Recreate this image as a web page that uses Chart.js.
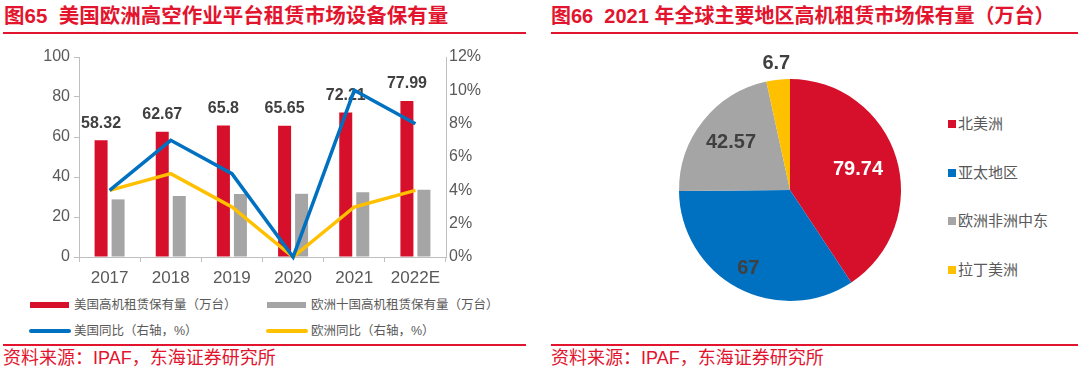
<!DOCTYPE html>
<html lang="zh">
<head>
<meta charset="UTF-8">
<title>高机租赁市场保有量</title>
<script src="https://cdn.jsdelivr.net/npm/chart.js"></script>
<style>
  body { margin: 0; width: 1080px; height: 376px; background: #fff; position: relative; overflow: hidden;
         font-family: "Liberation Sans", "Noto Sans CJK SC", sans-serif; }
  .title { position: absolute; top: 4px; line-height: 24px; font-size: 20px; font-weight: bold; color: #E2142E; white-space: nowrap; }
  .rule { position: absolute; height: 2px; background: #E2142E; }
  .source { position: absolute; top: 348px; line-height: 20px; font-size: 18px; color: #E2142E; white-space: nowrap; }
  .lg { position: absolute; font-size: 12.5px; color: #595959; white-space: nowrap; line-height: 14px; }
  .lg i { position: absolute; }
  .plg { position: absolute; font-size: 15px; color: #595959; white-space: nowrap; line-height: 18px; }
  .plg i { position: absolute; left: -10px; top: 5px; width: 8px; height: 8px; }
  canvas { position: absolute; }
</style>
</head>
<body>
<div class="title" style="left:4px;font-size:20.5px">图65&nbsp;&nbsp;美国欧洲高空作业平台租赁市场设备保有量</div>
<div class="rule" style="left:3px;width:523px;top:32px"></div>
<div class="title" style="left:551px">图66&nbsp;&nbsp;2021 年全球主要地区高机租赁市场保有量（万台）</div>
<div class="rule" style="left:551px;width:527px;top:32px"></div>

<div style="position:absolute;left:0;top:40px;width:527px;height:250px"><canvas id="barChart"></canvas></div>
<div id="barLegend"></div>

<div style="position:absolute;left:660px;top:40px;width:260px;height:300px"><canvas id="pieChart"></canvas></div>
<div id="pieLegend"></div>

<div class="rule" style="left:3px;width:523px;top:344px"></div>
<div class="source" style="left:3px">资料来源：IPAF，东海证券研究所</div>
<div class="rule" style="left:551px;width:527px;top:344px"></div>
<div class="source" style="left:551px">资料来源：IPAF，东海证券研究所</div>

<script>
// 图65 数据
const years = ['2017', '2018', '2019', '2020', '2021', '2022E'];
const usStock = [58.32, 62.67, 65.8, 65.65, 72.21, 77.99];
const euStock = [28.8, 30.5, 31.5, 31.6, 32.4, 33.6];
const usYoY = [4, 7, 5, 0, 10, 8];
const euYoY = [4, 5, 3, 0, 3, 4];
const seriesNames = ['美国高机租赁保有量（万台）', '欧洲十国高机租赁保有量（万台）', '美国同比（右轴，%）', '欧洲同比（右轴，%）'];

// 图66 数据
const regions = ['北美洲', '亚太地区', '欧洲非洲中东', '拉丁美洲'];
const regionStock = [79.74, 67, 42.57, 6.7];

const RED = '#D6102A', GREY = '#A5A5A5', BLUE = '#0070C0', YELLOW = '#FFC000';
const TXT = '#595959', AXIS = '#BFBFBF';
const FONT = '"Liberation Sans", "Noto Sans CJK SC", sans-serif';

// 柱顶数值标签（画在折线下面）
const barLabels = {
  id: 'barLabels',
  afterDatasetDraw(chart, args) {
    if (args.index !== 0) return;
    const ctx = chart.ctx;
    ctx.save();
    ctx.font = 'bold 16px ' + FONT;
    ctx.fillStyle = '#404040';
    ctx.textAlign = 'center';
    ctx.textBaseline = 'middle';
    args.meta.data.forEach((el, i) => {
      ctx.fillText(String(usStock[i]), el.x, el.y - 17);
    });
    ctx.restore();
  }
};

new Chart(document.getElementById('barChart'), {
  data: {
    labels: years,
    datasets: [
      { type: 'bar', label: seriesNames[0], data: usStock, backgroundColor: RED, yAxisID: 'y', order: 2,
        categoryPercentage: 0.556, barPercentage: 0.765 },
      { type: 'bar', label: seriesNames[1], data: euStock, backgroundColor: GREY, yAxisID: 'y', order: 2,
        categoryPercentage: 0.556, barPercentage: 0.765 },
      { type: 'line', label: seriesNames[2], data: usYoY, borderColor: BLUE, borderWidth: 3.5, pointRadius: 0,
        yAxisID: 'y1', order: 1, clip: 6 },
      { type: 'line', label: seriesNames[3], data: euYoY, borderColor: YELLOW, borderWidth: 3.5, pointRadius: 0,
        yAxisID: 'y1', order: 1, clip: 6 }
    ]
  },
  options: {
    responsive: true,
    maintainAspectRatio: false,
    animation: false,
    layout: { padding: { top: 17, left: 0, right: 0, bottom: 0 } },
    plugins: { legend: { display: false }, tooltip: { enabled: false } },
    scales: {
      x: {
        offset: true,
        grid: { display: true, drawOnChartArea: false, tickLength: 5, color: AXIS, offset: true },
        border: { color: AXIS },
        ticks: { color: TXT, font: { size: 17, family: FONT }, padding: 6, maxRotation: 0 },
        afterFit(s) { s.height = 33; }
      },
      y: {
        position: 'left', min: 0, max: 100,
        grid: { drawOnChartArea: false, tickLength: 5, color: AXIS },
        border: { color: AXIS },
        ticks: { stepSize: 20, color: TXT, font: { size: 16, family: FONT }, padding: 4 },
        afterFit(s) { s.width = 79; }
      },
      y1: {
        position: 'right', min: 0, max: 12,
        grid: { drawOnChartArea: false, tickLength: 0, color: AXIS },
        border: { color: AXIS },
        ticks: { stepSize: 2, color: TXT, font: { size: 16, family: FONT }, padding: 3, callback: v => v + '%' },
        afterFit(s) { s.width = 81; }
      }
    }
  },
  plugins: [barLabels]
});

// 图65 图例
const legendSpec = [
  { color: RED, bar: true }, { color: GREY, bar: true },
  { color: BLUE, bar: false }, { color: YELLOW, bar: false }
];
const legendBox = document.getElementById('barLegend');
seriesNames.forEach((name, i) => {
  const col = i % 2, row = Math.floor(i / 2);
  const d = document.createElement('div');
  d.className = 'lg';
  d.style.left = (col ? 311 : 74) + 'px';
  d.style.top = (row ? 324 : 298) + 'px';
  const m = document.createElement('i');
  const s = legendSpec[i];
  m.style.background = s.color;
  m.style.left = (s.bar ? -44 : -45) + 'px';
  m.style.width = (s.bar ? 39 : 42) + 'px';
  m.style.height = (s.bar ? 6 : 4) + 'px';
  m.style.top = (s.bar ? 4 : 5) + 'px';
  if (!s.bar) m.style.borderRadius = '2px';
  d.appendChild(m);
  d.appendChild(document.createTextNode(name));
  legendBox.appendChild(d);
});

// 饼图数值标签
const pieColors = [RED, BLUE, GREY, YELLOW];
const labelRadius = [0.64, 0.8, 0.68, 1.15];
const labelColors = ['#fff', '#404040', '#404040', '#404040'];
const pieLabels = {
  id: 'pieLabels',
  afterDatasetsDraw(chart) {
    const ctx = chart.ctx;
    const meta = chart.getDatasetMeta(0);
    ctx.save();
    ctx.font = 'bold 20px ' + FONT;
    ctx.textAlign = 'center';
    ctx.textBaseline = 'middle';
    meta.data.forEach((arc, i) => {
      const a = (arc.startAngle + arc.endAngle) / 2;
      const r = arc.outerRadius * labelRadius[i];
      ctx.fillStyle = labelColors[i];
      ctx.fillText(String(regionStock[i]), arc.x + Math.cos(a) * r, arc.y + Math.sin(a) * r);
    });
    ctx.restore();
  }
};

new Chart(document.getElementById('pieChart'), {
  type: 'pie',
  data: {
    labels: regions,
    datasets: [{ data: regionStock, backgroundColor: pieColors, borderWidth: 0 }]
  },
  options: {
    responsive: true,
    maintainAspectRatio: false,
    animation: false,
    layout: { padding: { top: 39, bottom: 39, left: 19, right: 19 } },
    plugins: { legend: { display: false }, tooltip: { enabled: false } }
  },
  plugins: [pieLabels]
});

// 图66 图例
const pieLegend = document.getElementById('pieLegend');
regions.forEach((name, i) => {
  const d = document.createElement('div');
  d.className = 'plg';
  d.style.left = '958px';
  d.style.top = (115 + i * 48.7) + 'px';
  const m = document.createElement('i');
  m.style.background = pieColors[i];
  d.appendChild(m);
  d.appendChild(document.createTextNode(name));
  pieLegend.appendChild(d);
});
</script>
</body>
</html>
